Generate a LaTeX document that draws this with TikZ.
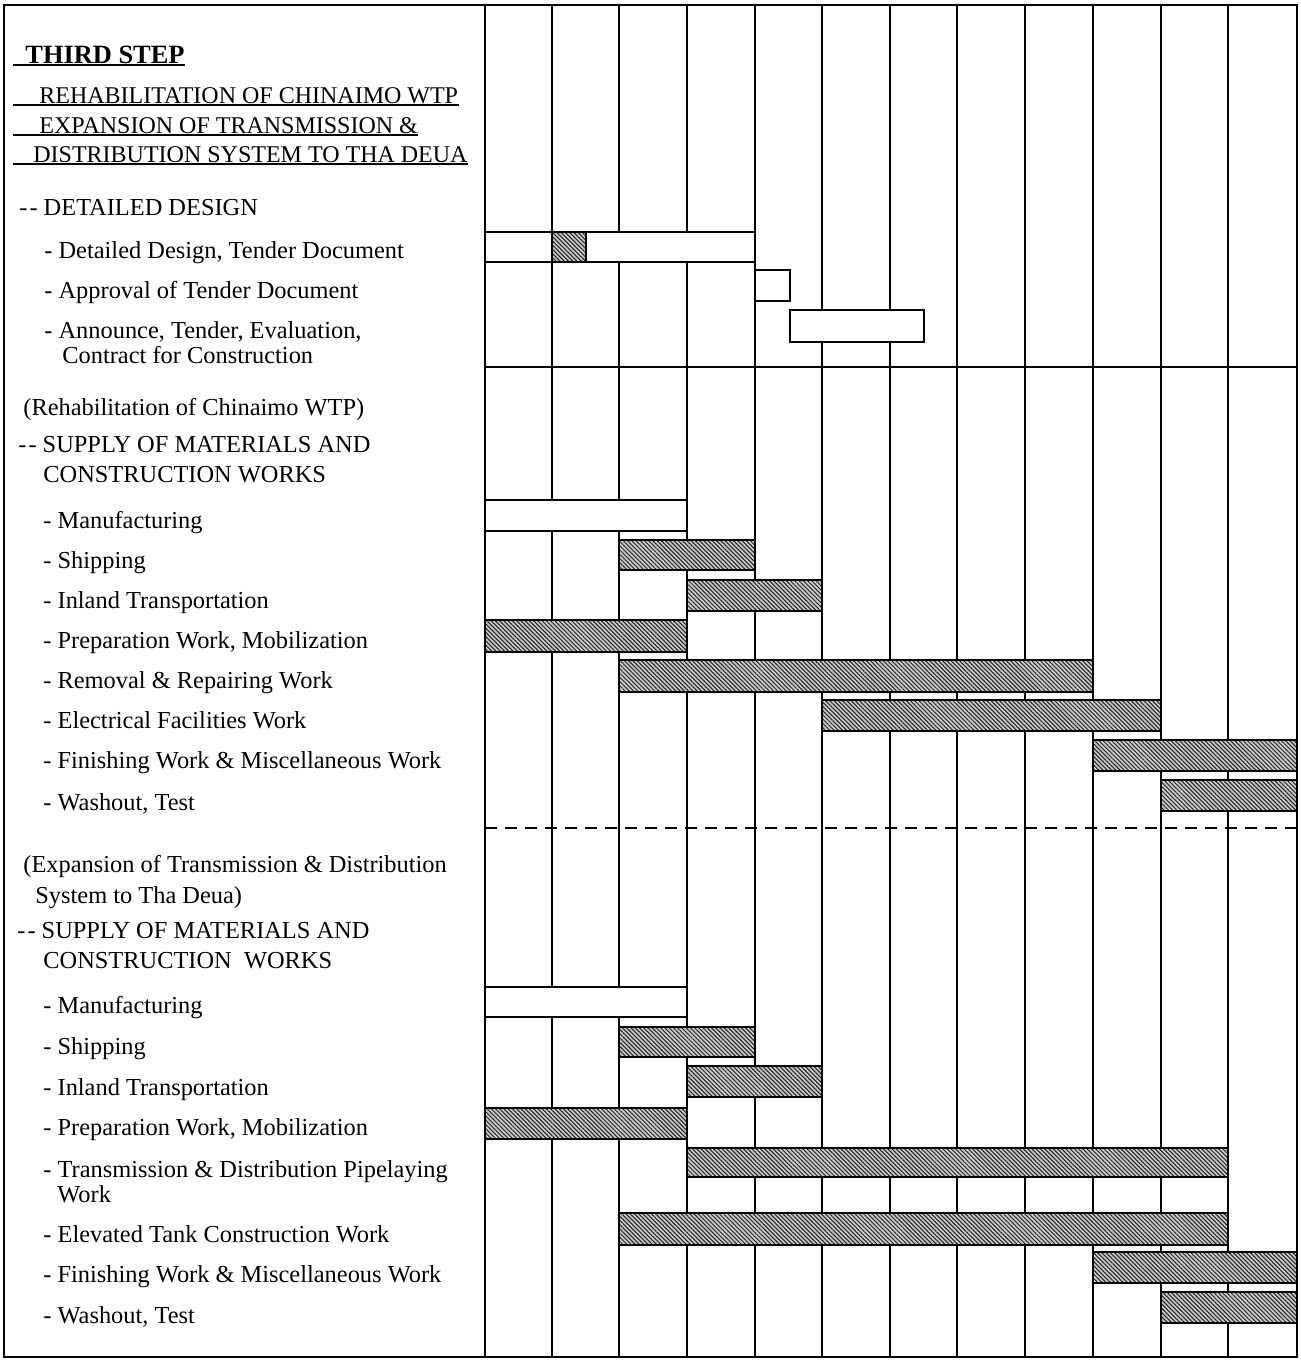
\documentclass[tikz,border=0pt]{standalone}
\usepackage{fontspec}
\setmainfont{Liberation Serif}
\usetikzlibrary{patterns.meta}
\begin{document}
\begin{tikzpicture}[x=0.5pt,y=-0.5pt,
  lbl/.style={anchor=base west, inner sep=0pt, font=\fontsize{12.2}{14}\selectfont},
  hdr/.style={anchor=base west, inner sep=0pt, font=\fontsize{12}{14}\selectfont},
  ttl/.style={anchor=base west, inner sep=0pt, font=\fontsize{13.2}{15}\selectfont\bfseries},
  uline/.style={line width=0.9pt},
  frame/.style={line width=1.2pt},
  gridline/.style={line width=1.1pt},
  dashline/.style={line width=1.1pt, dash pattern=on 6pt off 4pt},
  wbar/.style={draw=black, line width=1.3pt, fill=white},
  hbar/.style={draw=black, line width=1.3pt,
    preaction={fill=gray!45},
    preaction={pattern={Lines[angle=-45,distance=1.5pt,line width=0.5pt]}, pattern color=black!85}}
]
\useasboundingbox (0,0) rectangle (1301,1360);
\fill[white] (0,0) rectangle (1301,1360);

% grid
\foreach \xx in {485,552,619,687,755,822,890,957,1025,1093,1161,1228}
  \draw[gridline] (\xx,5) -- (\xx,1357);
\draw[gridline] (485,367) -- (1297,367);
\draw[dashline] (485,828) -- (1297,828);
\draw[frame] (4,5) rectangle (1297,1357);

% --- detailed design bars
\draw[wbar] (485,232) rectangle (755,262);
\draw[hbar] (552,232) rectangle (586,262);
\draw[wbar] (755,270) rectangle (790,301);
\draw[wbar] (790,310) rectangle (924,342);

% --- rehabilitation bars
\draw[wbar] (485,500) rectangle (687,531);
\draw[hbar] (619,540) rectangle (755,570);
\draw[hbar] (687,580) rectangle (822,611);
\draw[hbar] (485,620) rectangle (687,652);
\draw[hbar] (619,660) rectangle (1093,692);
\draw[hbar] (822,700) rectangle (1161,731);
\draw[hbar] (1093,740) rectangle (1297,771);
\draw[hbar] (1161,780) rectangle (1297,811);

% --- expansion bars
\draw[wbar] (485,987) rectangle (687,1017);
\draw[hbar] (619,1027) rectangle (755,1057);
\draw[hbar] (687,1066) rectangle (822,1097);
\draw[hbar] (485,1108) rectangle (687,1139);
\draw[hbar] (687,1148) rectangle (1228,1177);
\draw[hbar] (619,1213) rectangle (1228,1245);
\draw[hbar] (1093,1252) rectangle (1297,1283);
\draw[hbar] (1161,1292) rectangle (1297,1323);

% --- headings
\node[ttl] (t0) at (25,63) {THIRD STEP};
\node[hdr] (h1) at (39,103) {REHABILITATION OF CHINAIMO WTP};
\node[hdr] (h2) at (39,133) {EXPANSION OF TRANSMISSION \&};
\node[hdr] (h3) at (33,162) {DISTRIBUTION SYSTEM TO THA DEUA};
\coordinate (u0) at (13,65);
\coordinate (u1) at (13,105);
\coordinate (u2) at (13,135);
\coordinate (u3) at (13,164);
\draw[uline] (u0) -- (u0 -| t0.east);
\draw[uline] (u1) -- (u1 -| h1.east);
\draw[uline] (u2) -- (u2 -| h2.east);
\draw[uline] (u3) -- (u3 -| h3.east);

% --- detailed design labels
\node[lbl] (d0) at (19,215) {-\kern1pt- DETAILED DESIGN};
\node[lbl] (d1) at (44,258) {- Detailed Design, Tender Document};
\node[lbl] (d2) at (44,298) {- Approval of Tender Document};
\node[lbl] (d3) at (44,338) {- Announce, Tender, Evaluation,};
\node[lbl] (d3b) at (62,363) {Contract for Construction};

% --- rehabilitation labels
\node[lbl] (r0) at (23,415) {(Rehabilitation of Chinaimo WTP)};
\node[lbl] (r1) at (18,452) {-\kern1pt- SUPPLY OF MATERIALS AND};
\node[lbl] (r1b) at (43,482) {CONSTRUCTION WORKS};
\node[lbl] (r2) at (43,528) {- Manufacturing};
\node[lbl] (r3) at (43,568) {- Shipping};
\node[lbl] (r4) at (43,608) {- Inland Transportation};
\node[lbl] (r5) at (43,648) {- Preparation Work, Mobilization};
\node[lbl] (r6) at (43,688) {- Removal \& Repairing Work};
\node[lbl] (r7) at (43,728) {- Electrical Facilities Work};
\node[lbl] (r8) at (43,768) {- Finishing Work \& Miscellaneous Work};
\node[lbl] (r9) at (43,810) {- Washout, Test};

% --- expansion labels
\node[lbl] (e0) at (23,872) {(Expansion of Transmission \& Distribution};
\node[lbl] (e0b) at (35,903) {System to Tha Deua)};
\node[lbl] (e1) at (17,938) {-\kern1pt- SUPPLY OF MATERIALS AND};
\node[lbl] (e1b) at (43,968) {CONSTRUCTION\ \ WORKS};
\node[lbl] (e2) at (43,1013) {- Manufacturing};
\node[lbl] (e3) at (43,1054) {- Shipping};
\node[lbl] (e4) at (43,1095) {- Inland Transportation};
\node[lbl] (e5) at (43,1135) {- Preparation Work, Mobilization};
\node[lbl] (e6) at (43,1177) {- Transmission \& Distribution Pipelaying};
\node[lbl] (e6b) at (57,1202) {Work};
\node[lbl] (e7) at (43,1242) {- Elevated Tank Construction Work};
\node[lbl] (e8) at (43,1282) {- Finishing Work \& Miscellaneous Work};
\node[lbl] (e9) at (43,1323) {- Washout, Test};
\end{tikzpicture}
\end{document}
